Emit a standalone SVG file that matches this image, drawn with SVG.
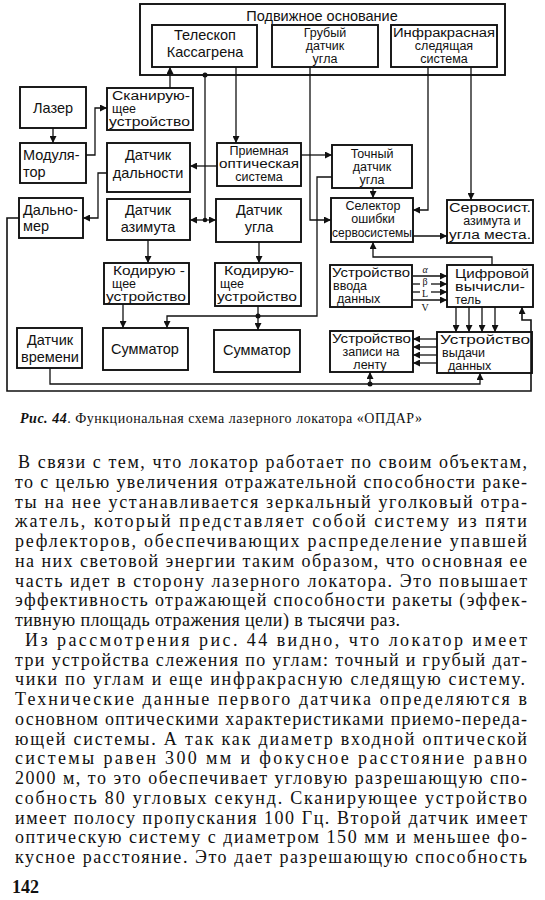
<svg xmlns="http://www.w3.org/2000/svg" width="545" height="900" viewBox="0 0 545 900">
<defs>
<marker id="ah" viewBox="0 0 10 10" refX="10" refY="5" markerWidth="7" markerHeight="7" markerUnits="userSpaceOnUse" orient="auto"><path d="M0,0 L10,5 L0,10 z" fill="#111"/></marker>
<style>
.b{fill:none;stroke:#111;stroke-width:1.9}
.c{fill:none;stroke:#111;stroke-width:1.3}
.a{marker-end:url(#ah)}
.t{font-family:"Liberation Sans",Arial,sans-serif;font-size:14.5px;fill:#111}
.s{font-family:"Liberation Sans",Arial,sans-serif;font-size:12.5px;fill:#111}
.g{font-family:"Liberation Serif","Times New Roman",serif;font-size:10px;fill:#111}
.m{text-anchor:middle}
.p{font-family:"Liberation Serif","Times New Roman",serif;font-size:18px;fill:#111}
.cap{font-family:"Liberation Serif","Times New Roman",serif;font-size:14px;fill:#111}
</style>
</defs>
<rect width="545" height="900" fill="#fff"/>

<g id="frame"><rect class="b" x="140" y="4" width="365" height="71"/><text class="t m" x="322" y="21">Подвижное основание</text></g>
<g id="telescope"><rect class="b" x="152" y="25" width="105" height="42"/><text class="t m" x="205" y="40">Телескоп</text><text class="t m" x="205" y="57">Кассагрена</text></g>
<g id="coarse"><rect class="b" x="272" y="25" width="106" height="42"/><text class="s m" x="325" y="37">Грубый</text><text class="s m" x="325" y="50">датчик</text><text class="s m" x="325" y="63">угла</text></g>
<g id="ir"><rect class="b" x="391" y="25" width="106" height="42"/><text class="s m" x="444" y="37" textLength="102" lengthAdjust="spacingAndGlyphs">Инфракрасная</text><text class="s m" x="444" y="50">следящая</text><text class="s m" x="444" y="63">система</text></g>
<g id="laser"><rect class="b" x="20" y="87" width="66" height="41"/><text class="t m" x="53" y="113">Лазер</text></g>
<g id="scan"><rect class="b" x="107" y="88" width="86" height="42"/><text class="s" x="112" y="100" textLength="78" lengthAdjust="spacingAndGlyphs">Сканирую-</text><text class="s" x="112" y="113">щее</text><text class="s" x="109" y="126" textLength="81" lengthAdjust="spacingAndGlyphs">устройство</text></g>
<g id="mod"><rect class="b" x="20" y="143" width="66" height="40"/><text class="t" x="23" y="160">Модуля-</text><text class="t" x="23" y="177">тор</text></g>
<g id="range"><rect class="b" x="107" y="143" width="83" height="49"/><text class="t m" x="148" y="160">Датчик</text><text class="t m" x="148" y="178">дальности</text></g>
<g id="recv"><rect class="b" x="217" y="143" width="84" height="43"/><text class="s m" x="259" y="155">Приемная</text><text class="s m" x="259" y="168" textLength="80" lengthAdjust="spacingAndGlyphs">оптическая</text><text class="s m" x="259" y="181">система</text></g>
<g id="fine"><rect class="b" x="332" y="145" width="80" height="43"/><text class="s m" x="372" y="158">Точный</text><text class="s m" x="372" y="171">датчик</text><text class="s m" x="372" y="184">угла</text></g>
<g id="rangefinder"><rect class="b" x="19" y="198" width="64" height="40"/><text class="t" x="23" y="215">Дально-</text><text class="t" x="23" y="231">мер</text></g>
<g id="azim"><rect class="b" x="107" y="199" width="83" height="41"/><text class="t m" x="148" y="215">Датчик</text><text class="t m" x="148" y="232">азимута</text></g>
<g id="angle"><rect class="b" x="216" y="199" width="85" height="43"/><text class="t m" x="259" y="215">Датчик</text><text class="t m" x="259" y="232">угла</text></g>
<g id="selector"><rect class="b" x="331" y="198" width="82" height="44"/><text class="s m" x="373" y="210">Селектор</text><text class="s m" x="373" y="223">ошибки</text><text class="s m" x="372" y="237" textLength="80" lengthAdjust="spacingAndGlyphs">сервосистемы</text></g>
<g id="servo"><rect class="b" x="447" y="200" width="86" height="43"/><text class="s m" x="490" y="212" textLength="82" lengthAdjust="spacingAndGlyphs">Сервосист.</text><text class="s m" x="492" y="225">азимута и</text><text class="s m" x="490" y="239" textLength="82" lengthAdjust="spacingAndGlyphs">угла места.</text></g>
<g id="enc1"><rect class="b" x="104" y="263" width="85" height="41"/><text class="s" x="113" y="275" textLength="72" lengthAdjust="spacingAndGlyphs">Кодирую -</text><text class="s" x="112" y="288">щее</text><text class="s" x="106" y="301" textLength="80" lengthAdjust="spacingAndGlyphs">устройство</text></g>
<g id="enc2"><rect class="b" x="215" y="263" width="86" height="43"/><text class="s" x="224" y="275" textLength="70" lengthAdjust="spacingAndGlyphs">Кодирую-</text><text class="s" x="220" y="288">щее</text><text class="s" x="217" y="301" textLength="80" lengthAdjust="spacingAndGlyphs">устройство</text></g>
<g id="input"><rect class="b" x="330" y="265" width="82" height="42"/><text class="s" x="332" y="277" textLength="78" lengthAdjust="spacingAndGlyphs">Устройство</text><text class="s" x="333" y="290">ввода</text><text class="s" x="337" y="303">данных</text></g>
<g id="computer"><rect class="b" x="447" y="265" width="86" height="42"/><text class="s" x="455" y="278" textLength="74" lengthAdjust="spacingAndGlyphs">Цифровой</text><text class="s" x="455" y="291" textLength="70" lengthAdjust="spacingAndGlyphs">вычисли-</text><text class="s" x="455" y="304">тель</text></g>
<g id="timer"><rect class="b" x="17" y="328" width="65" height="40"/><text class="t m" x="50" y="345">Датчик</text><text class="t m" x="50" y="362">времени</text></g>
<g id="sum1"><rect class="b" x="103" y="328" width="85" height="42"/><text class="t m" x="145" y="354">Сумматор</text></g>
<g id="sum2"><rect class="b" x="214" y="330" width="86" height="42"/><text class="t m" x="257" y="355">Сумматор</text></g>
<g id="tape"><rect class="b" x="330" y="331" width="83" height="41"/><text class="s" x="332" y="343" textLength="79" lengthAdjust="spacingAndGlyphs">Устройство</text><text class="s m" x="371" y="356">записи на</text><text class="s m" x="370" y="369">ленту</text></g>
<g id="output"><rect class="b" x="437" y="332" width="95" height="41"/><text class="s" x="440" y="344" textLength="90" lengthAdjust="spacingAndGlyphs">Устройство</text><text class="s" x="442" y="357">выдачи</text><text class="s" x="448" y="370">данных</text></g>

<g id="connectors">
<path class="c a" d="M170,88 V67"/>
<path class="c a" d="M236,67 V143"/>
<path class="c a" d="M53,128 V143"/>
<path class="c a" d="M86,155 H95 V108 H107"/>
<path class="c a" d="M217,166 H190"/>
<path class="c a" d="M107,173 H98 V218 H83"/>
<path class="c a" d="M301,155 H332"/>
<path class="c a" d="M373,188 V198"/>
<path class="c" d="M205,75 V220"/>
<path class="c a" d="M205,220 H190"/>
<path class="c a" d="M205,220 H216"/>
<circle cx="205" cy="75" r="2.5" fill="#111"/>
<circle cx="205" cy="220" r="2.3" fill="#111"/>
<path class="c a" d="M310,67 V220 H331"/>
<path class="c a" d="M428,67 V210 H413"/>
<path class="c a" d="M471,67 V200"/>
<path class="c a" d="M413,236 H447"/>
<path class="c a" d="M492,265 V257 H373 V242"/>
<path class="c a" d="M148,240 V263"/>
<path class="c a" d="M259,242 V263"/>
<path class="c a" d="M123,304 V328"/>
<path class="c a" d="M332,177 H317 V316 H167 V328"/>
<path class="c" d="M258,306 V316"/>
<path class="c a" d="M258,316 V330"/>
<circle cx="258" cy="316" r="2.5" fill="#111"/>
<path class="c a" d="M413,276 H447"/>
<path class="c" d="M413,284 H420"/><path class="c a" d="M431,284 H447"/>
<path class="c" d="M413,292 H420"/><path class="c a" d="M431,292 H447"/>
<path class="c a" d="M413,300 H447"/>
<text class="g m" x="425" y="273" font-style="italic">α</text>
<text class="g m" x="425" y="285">β</text>
<text class="g m" x="425" y="297">L</text>
<text class="g m" x="425" y="311">V</text>
<path class="c a" d="M456,307 V332"/>
<path class="c a" d="M469,307 V332"/>
<path class="c a" d="M482,307 V332"/>
<path class="c a" d="M495,307 V332"/>
<path class="c a" d="M437,339 H413"/>
<path class="c a" d="M437,347 H413"/>
<path class="c a" d="M437,355 H413"/>
<path class="c a" d="M437,363 H413"/>
<path class="c a" d="M50,368 V384 H480 V373"/>
<path class="c a" d="M370,384 V372"/>
<circle cx="370" cy="384" r="2.5" fill="#111"/>
<path class="c a" d="M19,218 H7 V391 H531 V320 H522 V307" style="stroke-width:1.6"/>
</g>

<text class="cap" x="20" y="423" textLength="402" lengthAdjust="spacing"><tspan font-weight="bold" font-style="italic">Рис. 44</tspan>. Функциональная схема лазерного локатора «ОПДАР»</text>

<g id="body">
<text class="p" x="18" y="468" textLength="509" lengthAdjust="spacing">В связи с тем, что локатор работает по своим объектам,</text>
<text class="p" x="15" y="488" textLength="512" lengthAdjust="spacing">то с целью увеличения отражательной способности раке-</text>
<text class="p" x="15" y="508" textLength="512" lengthAdjust="spacing">ты на нее устанавливается зеркальный уголковый отра-</text>
<text class="p" x="15" y="527" textLength="512" lengthAdjust="spacing">жатель, который представляет собой систему из пяти</text>
<text class="p" x="15" y="547" textLength="512" lengthAdjust="spacing">рефлекторов, обеспечивающих распределение упавшей</text>
<text class="p" x="15" y="567" textLength="512" lengthAdjust="spacing">на них световой энергии таким образом, что основная ее</text>
<text class="p" x="15" y="587" textLength="512" lengthAdjust="spacing">часть идет в сторону лазерного локатора. Это повышает</text>
<text class="p" x="15" y="606" textLength="512" lengthAdjust="spacing">эффективность отражающей способности ракеты (эффек-</text>
<text class="p" x="15" y="626" textLength="385" lengthAdjust="spacing">тивную площадь отражения цели) в тысячи раз.</text>
<text class="p" x="25" y="646" textLength="502" lengthAdjust="spacing">Из рассмотрения рис. 44 видно, что локатор имеет</text>
<text class="p" x="15" y="666" textLength="512" lengthAdjust="spacing">три устройства слежения по углам: точный и грубый дат-</text>
<text class="p" x="15" y="685" textLength="510" lengthAdjust="spacing">чики по углам и еще инфракрасную следящую систему.</text>
<text class="p" x="15" y="705" textLength="512" lengthAdjust="spacing">Технические данные первого датчика определяются в</text>
<text class="p" x="15" y="725" textLength="512" lengthAdjust="spacing">основном оптическими характеристиками приемо-переда-</text>
<text class="p" x="15" y="745" textLength="512" lengthAdjust="spacing">ющей системы. А так как диаметр входной оптической</text>
<text class="p" x="15" y="764" textLength="512" lengthAdjust="spacing">системы равен 300 мм и фокусное расстояние равно</text>
<text class="p" x="15" y="784" textLength="512" lengthAdjust="spacing">2000 м, то это обеспечивает угловую разрешающую спо-</text>
<text class="p" x="15" y="804" textLength="512" lengthAdjust="spacing">собность 80 угловых секунд. Сканирующее устройство</text>
<text class="p" x="15" y="824" textLength="512" lengthAdjust="spacing">имеет полосу пропускания 100 Гц. Второй датчик имеет</text>
<text class="p" x="15" y="843" textLength="512" lengthAdjust="spacing">оптическую систему с диаметром 150 мм и меньшее фо-</text>
<text class="p" x="15" y="863" textLength="512" lengthAdjust="spacing">кусное расстояние. Это дает разрешающую способность</text>
<text class="p" x="12" y="893" font-weight="bold" font-size="17">142</text>
</g>
</svg>
